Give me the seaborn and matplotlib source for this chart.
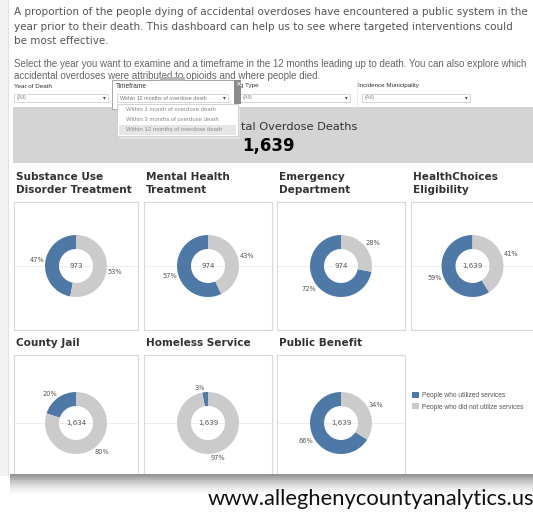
import numpy as np
import matplotlib
matplotlib.use("Agg")
import matplotlib.pyplot as plt
import matplotlib.patches as mpatches
import seaborn as sns

# data
panel_titles = [
    ["Substance Use", "Disorder Treatment"],
    ["Mental Health", "Treatment"],
    ["Emergency", "Department"],
    ["HealthChoices", "Eligibility"],
    ["County Jail"],
    ["Homeless Service"],
    ["Public Benefit"],
]
totals = [973, 974, 974, 1639, 1634, 1639, 1639]
utilized_pct = [47, 57, 72, 59, 20, 3, 66]
not_utilized_pct = [53, 43, 28, 41, 80, 97, 34]
legend_labels = ["People who utilized services", "People who did not utilize services"]
total_deaths = 1639

intro_lines = [
    "A proportion of the people dying of accidental overdoses have encountered a public system in the",
    "year prior to their death. This dashboard can help us to see where targeted interventions could",
    "be most effective.",
]
select_lines = [
    "Select the year you want to examine and a timeframe in the 12 months leading up to death. You can also explore which",
    "accidental overdoses were attributed to opioids and where people died.",
]
filter_names = ["Year of Death", "Timeframe", "Drug Type", "Incidence Municipality"]
filter_values = ["(All)", "Within 12 months of overdose death", "(All)", "(All)"]
timeframe_options = [
    "Within 1 month of overdose death",
    "Within 3 months of overdose death",
    "Within 12 months of overdose death",
]

sns.set_theme(style="white")
plt.rcParams["font.family"] = ["DejaVu Sans"]
palette = sns.color_palette(["#4e79a7", "#cbcbcb"])

W, H = 533, 513
fig = plt.figure(figsize=(W / 100, H / 100), dpi=100)
fig.patch.set_facecolor("white")

# background canvas in pixel coordinates (y down)
bg = fig.add_axes([0, 0, 1, 1])
bg.set_xlim(0, W)
bg.set_ylim(H, 0)
bg.axis("off")

bg.add_patch(mpatches.Rectangle((0, 0), 8, 476, color="#f1f1f1", lw=0))
bg.plot([8, 8], [0, 476], color="#e2e2e2", lw=0.8)

# intro text
for i, line in enumerate(intro_lines):
    bg.text(14, 12 + i * 14.7, line, fontsize=7.45, color="#555555", va="center")
for i, line in enumerate(select_lines):
    bg.text(14, 64 + i * 11.7, line, fontsize=7.0, color="#666666", va="center",
            family="Liberation Sans")

# filters
filter_x = [14, 116, 230, 358]
box_x = [(14, 108), (117, 228), (240, 350), (362, 470)]
for name, val, fxp, (b0, b1) in zip(filter_names, filter_values, filter_x, box_x):
    bg.text(fxp, 86, name, fontsize=4.5, color="#333333", va="center", family="Liberation Sans")
    bg.add_patch(mpatches.Rectangle((b0, 93.5), b1 - b0, 8.5, facecolor="white",
                                    edgecolor="#d0d0d0", lw=0.6))
    bg.text(b0 + 3, 98, val, fontsize=3.9, color="#888888", va="center", family="Liberation Sans")
    bg.text(b1 - 4, 98, "▾", fontsize=4, color="#555555", va="center", ha="center")
bg.plot([357, 357], [80, 107], color="#c9d3e3", lw=0.7, ls=":")

# banner
bg.add_patch(mpatches.Rectangle((13, 107), W - 13, 56, color="#d4d4d4", lw=0))
bg.text(357, 127, "Total Accidental Overdose Deaths", fontsize=8.2, color="#333333",
        ha="right", va="center")
bg.text(268, 146, f"{total_deaths:,}", fontsize=12, fontweight="bold", color="black",
        ha="center", va="center")

# timeframe popup
bg.add_patch(mpatches.Rectangle((112, 80), 122, 29, facecolor="white", edgecolor="#a8a8a8",
                                lw=0.7, zorder=5))
bg.text(116, 86, "Timeframe", fontsize=4.7, color="#333333", va="center",
        family="Liberation Sans", zorder=6)
bg.add_patch(mpatches.Rectangle((117, 93.5), 111, 8.5, facecolor="white",
                                edgecolor="#d0d0d0", lw=0.6, zorder=6))
bg.text(120, 98, filter_values[1], fontsize=3.9, color="#777777", va="center",
        family="Liberation Sans", zorder=7)
bg.text(224, 98, "▾", fontsize=4, color="#555555", va="center", ha="center", zorder=7)
bg.add_patch(mpatches.Rectangle((234, 80), 7, 24, color="#8c8c8c", lw=0, zorder=6))
bg.text(237.5, 84, "×", fontsize=5, color="white", ha="center", va="center", zorder=7)
bg.add_patch(mpatches.Rectangle((160, 76.5), 25, 4, color="#b5b5b5", lw=0, zorder=6))
bg.add_patch(mpatches.Rectangle((119, 106), 121, 33, color="#e4e4e4", lw=0, zorder=6))
bg.add_patch(mpatches.Rectangle((117, 104), 121, 32, facecolor="white", edgecolor="#cccccc",
                                lw=0.6, zorder=7))
bg.add_patch(mpatches.Rectangle((119, 124.5), 117, 10.5, color="#e6e6e6", lw=0, zorder=8))
for i, opt in enumerate(timeframe_options):
    bg.text(126, 109.5 + i * 10.2, opt, fontsize=4.3, color="#8a8a8a", va="center",
            family="Liberation Sans", zorder=9)

# panel layout (pixels)
box_cols = [(14, 138), (144, 272), (277, 405), (411, 534)]
title_x = [16, 146, 279, 413]
rows = [(202, 330, 266, 177), (355, 474, 423, 343)]
R, RING = 31, 14

for k, (title, tot, u, n) in enumerate(zip(panel_titles, totals, utilized_pct, not_utilized_pct)):
    r, c = divmod(k, 4)
    y0, y1, cy, ty = rows[r]
    x0, x1 = box_cols[c]
    for j, line in enumerate(title):
        bg.text(title_x[c], ty + j * 13.3, line, fontsize=7.55, fontweight="bold",
                color="#333333", va="center")
    ax = fig.add_axes([x0 / W, 1 - y1 / H, (x1 - x0) / W, (y1 - y0) / H])
    w, h = x1 - x0, y1 - y0
    ccx, ccy = (x1 - x0) / 2, y1 - cy
    wedges, _ = ax.pie([u, n], colors=palette, startangle=90, counterclock=True,
                       radius=R, center=(ccx, ccy), frame=True,
                       wedgeprops=dict(width=RING, linewidth=0))
    ax.set_xlim(0, w)
    ax.set_ylim(0, h)
    ax.set_aspect("auto")
    ax.set_xticks([])
    ax.set_yticks([])
    ax.set_facecolor("white")
    for s in ax.spines.values():
        s.set_color("#d9d9d9")
        s.set_linewidth(0.8)
    ax.axhline(ccy, color="#ededed", lw=0.7, zorder=0)
    for wd, pct in zip(wedges, [u, n]):
        ang = np.deg2rad((wd.theta1 + wd.theta2) / 2)
        ca, sa = np.cos(ang), np.sin(ang)
        ax.text(ccx + (R + 1) * ca, ccy + (R + 1) * sa, f"{pct}%", fontsize=4.8,
                color="#555555", ha="left" if ca >= 0 else "right",
                va="bottom" if sa >= 0 else "top")
    ax.text(ccx, ccy, f"{tot:,}", fontsize=5, color="#555555", ha="center", va="center")

# legend
fig.legend(wedges, legend_labels, loc="upper left", bbox_to_anchor=(406 / W, 1 - 386 / H),
           frameon=False, handlelength=1.05, handleheight=1.05,
           handletextpad=0.4, labelspacing=0.6, labelcolor="#555555",
           prop={"family": "Liberation Sans", "size": 4.75})

# bottom shadow + footer
top = fig.add_axes([0, 0, 1, 1])
top.set_xlim(0, W)
top.set_ylim(H, 0)
top.axis("off")
top.patch.set_alpha(0)
shades = ["#959595", "#a4a4a4", "#b3b3b3", "#c2c2c2", "#cfcfcf", "#dbdbdb", "#e5e5e5",
          "#eeeeee", "#f5f5f5", "#fbfbfb"]
for i, col in enumerate(shades):
    top.add_patch(mpatches.Rectangle((10, 474 + i * 2), W - 10, 2.2, color=col, lw=0))
top.add_patch(mpatches.Rectangle((0, 494), W, 19, color="white", lw=0))
top.text(W + 1, 499, "www.alleghenycountyanalytics.us", fontsize=15.8, color="#111111",
         ha="right", va="center", family="Lato")

fig.savefig("out.png", dpi=100)
